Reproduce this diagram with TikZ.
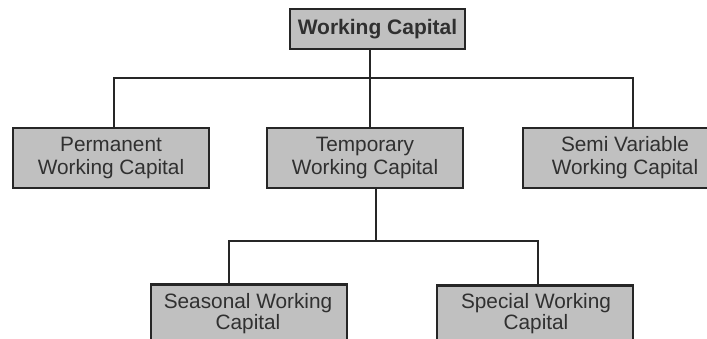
\documentclass[tikz,border=0pt]{standalone}
\usepackage{fontspec}
\setmainfont{Liberation Sans}
\definecolor{boxfill}{HTML}{C0C0C0}
\definecolor{ink}{HTML}{262626}
\definecolor{txt}{HTML}{303030}
\begin{document}
\begin{tikzpicture}[x=1pt,y=-1pt,
  box/.style={draw=ink, line width=2.5pt, fill=boxfill, inner sep=0pt, minimum width=196pt,
    minimum height=60pt, align=center, text=txt, font=\fontsize{20.8}{23}\selectfont},
  conn/.style={draw=ink, line width=2.5pt}]
\useasboundingbox (0,0) rectangle (707,339);
\clip (0,0) rectangle (707,339);
\node[box, minimum width=175pt, minimum height=40pt, font=\fontsize{21}{23}\selectfont\bfseries] (wc) at (377.5,29) {Working Capital};
\node[box] (perm) at (111,158) {Permanent\\Working Capital};
\node[box] (tmp) at (365,158) {Temporary\\Working Capital};
\node[box, minimum width=204pt] (sv) at (625,158) {Semi Variable\\Working Capital};
\node[box, minimum height=76pt, anchor=north] (sea) at (249,283) {};
\node[box, minimum height=76pt, anchor=north] (spe) at (535,284) {};
\node[text=txt, align=center, font=\fontsize{20.8}{21}\selectfont, anchor=base] (seat) at (248,329) {Seasonal Working\\Capital};
\node[text=txt, align=center, font=\fontsize{20.8}{21}\selectfont, anchor=base] (spet) at (536,329) {Special Working\\Capital};
\coordinate (j1) at (370,78);
\coordinate (jl) at (114,78);
\coordinate (jr) at (633,78);
\coordinate (j2) at (376,241);
\coordinate (kl) at (229,241);
\coordinate (kr) at (538,241);
\draw[conn] (j1 |- wc.south) -- (j1) -- (j1 |- tmp.north);
\draw[conn] (jl |- perm.north) -- (jl) -- (jr) -- (jr |- sv.north);
\draw[conn] (j2 |- tmp.south) -- (j2);
\draw[conn] (kl |- sea.north) -- (kl) -- (kr) -- (kr |- spe.north);
\end{tikzpicture}
\end{document}
